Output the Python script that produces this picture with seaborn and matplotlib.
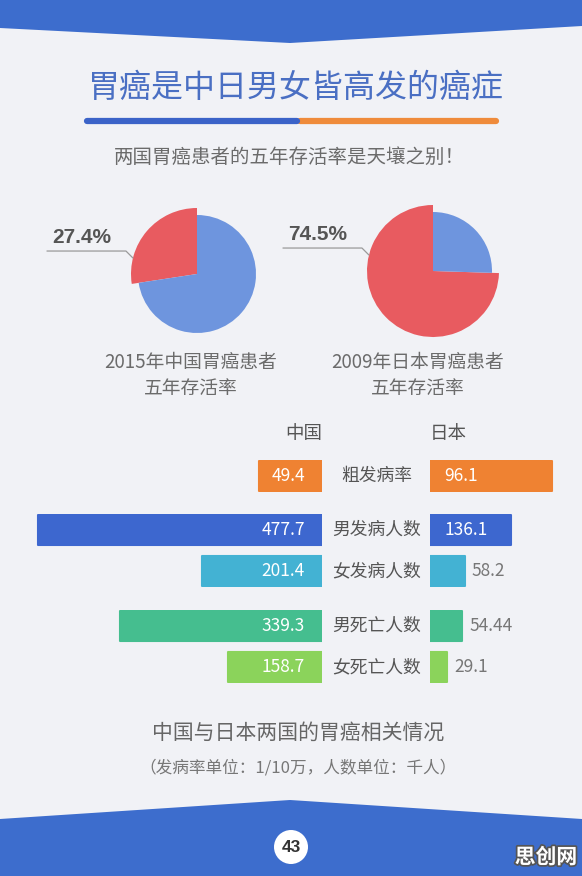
import matplotlib
matplotlib.use('AGG')

import numpy as np
import matplotlib.pyplot as plt
import matplotlib.patheffects as pe
from matplotlib.patches import Polygon, Circle
import seaborn as sns

W, H = 582, 876

# pies: five-year survival
pie_captions = ['2015年中国胃癌患者\n五年存活率', '2009年日本胃癌患者\n五年存活率']
survival = [27.4, 74.5]

# butterfly bars
categories = ['粗发病率', '男发病人数', '女发病人数', '男死亡人数', '女死亡人数']
china = [49.4, 477.7, 201.4, 339.3, 158.7]
japan = [96.1, 136.1, 58.2, 54.44, 29.1]
china_labels = ['49.4', '477.7', '201.4', '339.3', '158.7']
japan_labels = ['96.1', '136.1', '58.2', '54.44', '29.1']
bar_colors = ['#ef8232', '#3d67cf', '#43b2d3', '#45be8f', '#8bd35b']
groups = [[0], [1, 2], [3, 4]]

BG = '#f1f2f6'
BANNER = '#3d6dcd'
RED = '#e85b60'
PIE_BLUE = '#6e95de'

sns.set_style('white')
plt.rcParams['font.family'] = ['Noto Sans CJK SC', 'DejaVu Sans']

fig = plt.figure(figsize=(W / 100, H / 100), dpi=100, facecolor=BG)


def px_axes(x0, y0, x1, y1):
    # pixel box, top-left origin
    return fig.add_axes([x0 / W, 1 - y1 / H, (x1 - x0) / W, (y1 - y0) / H])


def ftext(x, y, s, **kw):
    kw.setdefault('ha', 'center')
    kw.setdefault('va', 'center')
    return fig.text(x / W, 1 - y / H, s, **kw)


# background decorations
bg = px_axes(0, 0, W, H)
bg.set_xlim(0, W)
bg.set_ylim(H, 0)
bg.axis('off')
bg.add_patch(Polygon([(0, 0), (W, 0), (W, 26), (290, 43), (0, 28)], color=BANNER, lw=0))
bg.add_patch(Polygon([(0, H), (0, 819), (290, 800), (W, 819), (W, H)], color=BANNER, lw=0))
bg.plot([300, 496], [121, 121], color='#ef8b3b', lw=4.5, solid_capstyle='round')
bg.plot([87, 297], [121, 121], color='#3b63c8', lw=4.5, solid_capstyle='round')
bg.add_patch(Circle((291, 847), 17, color='white', lw=0))
bg.text(291, 848, '43', ha='center', va='center', fontsize=12.5, fontweight='bold',
        color='#333333', family=['Liberation Sans'])

ftext(296, 88, '胃癌是中日男女皆高发的癌症', fontsize=23, color='#4a6fc3')
ftext(289, 157, '两国胃癌患者的五年存活率是天壤之别！', fontsize=14, color='#6b6b6b')

# pies
pie_centers = [(197, 274), (433, 271)]
caption_x = [191, 418]
R_RED, R_BLUE, BOX = 66, 59, 70
for v, cap, (cx, cy), tx in zip(survival, pie_captions, pie_centers, caption_x):
    ax = px_axes(cx - BOX, cy - BOX, cx + BOX, cy + BOX)
    wedges, _ = ax.pie([v, 100 - v], colors=[RED, PIE_BLUE], startangle=90,
                       counterclock=True, radius=R_RED, wedgeprops=dict(linewidth=0))
    wedges[1].set_radius(R_BLUE)
    ax.set_xlim(-BOX, BOX)
    ax.set_ylim(-BOX, BOX)
    ax.set_aspect('equal')
    ax.axis('off')
    a = np.deg2rad(166)
    px, py = R_RED * np.cos(a), R_RED * np.sin(a)
    ex, ey = px - 7, py + 7
    ax.plot([ex - 79, ex, px], [ey, ey, py], color='#9a9a9a', lw=0.9, clip_on=False)
    ax.text(ex - 44, ey + 14, f'{v}%', ha='center', va='center', fontsize=15,
            fontweight='bold', color='#555555', family=['Liberation Sans'], clip_on=False)
    ftext(tx, 375.5, cap, fontsize=13.5, color='#6b6b6b', linespacing=1.33)

# bars
ftext(322, 434, '中国', ha='right', fontsize=13.3, color='#555555')
ftext(430, 434, '日本', ha='left', fontsize=13.3, color='#555555')

row_h, pitch = 32, 41
group_tops = [460, 514, 610]
bar_w = (row_h - 1.5) / pitch
for g, top in zip(groups, group_tops):
    n = len(g)
    bottom = top + (n - 1) * pitch + row_h
    scale = 1.27 if g == [0] else 0.595  # px per unit
    cw = 100 if g == [0] else 300
    cats = [categories[i] for i in g]
    cols = [bar_colors[i] for i in g]

    ax_c = px_axes(322 - cw, top, 322, bottom)
    sns.barplot(x=[china[i] for i in g], y=cats, hue=cats, palette=cols, orient='h',
                width=bar_w, saturation=1, legend=False, ax=ax_c)
    ax_c.set_xlim(cw / scale, 0)

    ax_j = px_axes(430, top, 580, bottom)
    sns.barplot(x=[japan[i] for i in g], y=cats, hue=cats, palette=cols, orient='h',
                width=bar_w, saturation=1, legend=False, ax=ax_j)
    ax_j.set_xlim(0, 150 / scale)

    for ax in (ax_c, ax_j):
        ax.set_ylim(n - 1 + bar_w / 2 + 0.02, -bar_w / 2 - 0.02)
        ax.axis('off')
        for p in ax.patches:
            p.set_edgecolor(p.get_facecolor())
            p.set_linewidth(1.5)
            p.set_joinstyle('round')

    for k, i in enumerate(g):
        ax_c.annotate(china_labels[i], xy=(0, k), xytext=(-17, 0), textcoords='offset pixels',
                      ha='right', va='center', color='white', fontsize=12.5)
        if japan[i] * scale > 60:
            ax_j.annotate(japan_labels[i], xy=(0, k), xytext=(14, 0), textcoords='offset pixels',
                          ha='left', va='center', color='white', fontsize=12.5)
        else:
            ax_j.annotate(japan_labels[i], xy=(japan[i], k), xytext=(7, 0),
                          textcoords='offset pixels', ha='left', va='center',
                          color='#777777', fontsize=12.5)
        ax_j.annotate(categories[i], xy=(0, k), xytext=(-53, 0), textcoords='offset pixels',
                      ha='center', va='center', color='#555555', fontsize=12.8)

ftext(298, 733, '中国与日本两国的胃癌相关情况', fontsize=15, color='#666666')
ftext(298, 768, '（发病率单位：1/10万，人数单位：千人）', fontsize=12, color='#777777')

ftext(546, 857, '思创网', fontsize=15, fontweight='bold', color='white',
      path_effects=[pe.withStroke(linewidth=2.5, foreground='#555555')])

fig.savefig('out.png', dpi=100, facecolor=BG)
